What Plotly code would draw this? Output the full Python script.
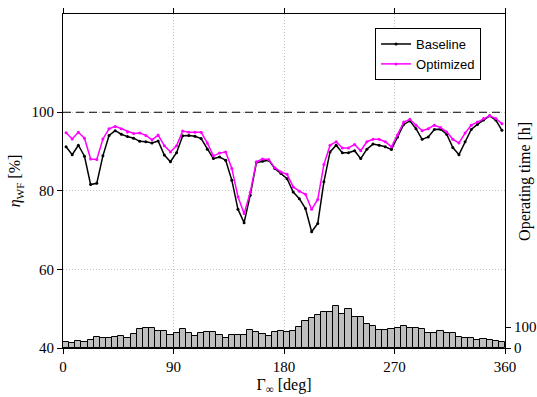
import plotly.graph_objects as go

# Wind direction bin centres [deg]
directions = [2.5 + 5 * i for i in range(72)]

baseline = [91.2, 89.2, 91.6, 88.8, 81.6, 81.9, 88.9, 94.1, 95.3, 94.4, 93.8, 93.4,
            92.6, 92.5, 92.2, 92.7, 89.1, 87.4, 89.7, 94.0, 94.1, 93.9, 93.3, 90.6,
            88.2, 88.6, 87.8, 82.7, 75.3, 71.9, 78.9, 87.2, 87.5, 87.8, 85.7, 84.4,
            83.1, 79.7, 78.0, 75.5, 69.6, 71.7, 82.3, 89.9, 91.6, 89.7, 89.7, 90.2,
            88.2, 90.6, 91.9, 91.6, 91.2, 90.5, 93.7, 96.9, 97.8, 95.8, 93.1, 93.7,
            95.6, 95.7, 94.4, 91.0, 89.2, 92.5, 95.6, 96.9, 98.0, 99.1, 98.0, 95.4]

optimized = [94.8, 93.2, 94.9, 93.4, 88.1, 88.0, 93.2, 95.8, 96.4, 95.8, 95.0, 94.6,
             94.7, 94.1, 93.0, 94.2, 91.5, 89.9, 91.5, 95.2, 94.9, 94.9, 94.9, 92.2,
             88.9, 89.6, 89.9, 85.7, 78.5, 74.2, 79.6, 87.4, 88.1, 88.0, 85.9, 84.8,
             84.2, 81.0, 79.9, 79.1, 75.3, 77.8, 86.7, 91.6, 92.5, 90.9, 90.9, 91.8,
             90.2, 92.5, 93.1, 93.1, 92.5, 91.2, 94.2, 97.5, 98.2, 96.7, 95.3, 95.8,
             96.7, 96.1, 95.0, 93.1, 92.2, 94.7, 96.7, 97.5, 98.4, 99.1, 98.4, 97.1]

operating_hours = [27, 24, 32, 30, 38, 53, 50, 50, 53, 56, 48, 67,
                   93, 96, 96, 82, 82, 61, 72, 91, 74, 58, 72, 78,
                   77, 64, 50, 64, 64, 64, 85, 77, 67, 58, 75, 80,
                   77, 82, 101, 128, 144, 158, 173, 174, 200, 165, 187, 147,
                   147, 115, 104, 86, 86, 91, 96, 106, 96, 96, 93, 72,
                   72, 80, 72, 70, 53, 50, 46, 38, 42, 37, 34, 29]

x_ticks = [0, 90, 180, 270, 360]
y_ticks = [40, 60, 80, 100]
y2_ticks = [0, 100]

serif = "Liberation Serif"
sans = "Liberation Sans"
grid = dict(showgrid=True, gridcolor="#c4c4c4", griddash="1px,2px", gridwidth=1)

fig = go.Figure()

fig.add_trace(go.Scatter(
    x=directions, y=baseline, name="Baseline", mode="lines+markers",
    line=dict(color="black", width=1.5), marker=dict(size=3, color="black"),
))
fig.add_trace(go.Scatter(
    x=directions, y=optimized, name="Optimized", mode="lines+markers",
    line=dict(color="#ff00ff", width=1.5), marker=dict(size=3, color="#ff00ff"),
))
fig.add_trace(go.Bar(
    x=directions, y=operating_hours, width=5, yaxis="y2", showlegend=False,
    marker=dict(color="#bebebe", line=dict(color="black", width=1)),
))

fig.add_shape(type="line", xref="x", yref="y", x0=0, x1=360, y0=100, y1=100,
              line=dict(color="black", width=1.2, dash="8px,5px"))

fig.update_layout(
    width=537, height=397,
    margin=dict(l=63, r=32, t=14, b=49, autoexpand=False),
    paper_bgcolor="white", plot_bgcolor="white",
    font=dict(family=serif, size=15, color="black"),
    bargap=0,
    xaxis=dict(
        range=[0, 360], tickvals=x_ticks, showline=True, linecolor="black", linewidth=1,
        mirror="ticks", ticks="outside", ticklen=5, tickcolor="black",
        zeroline=False, automargin=False, **grid,
        title=dict(text="Γ<sub>∞</sub> [deg]", font=dict(family=serif, size=16), standoff=4),
        tickfont=dict(family=serif, size=15),
    ),
    yaxis=dict(
        range=[40, 125], tickvals=y_ticks, showline=True, linecolor="black", linewidth=1,
        ticks="outside", ticklen=5, tickcolor="black",
        zeroline=False, automargin=False, **grid,
        title=dict(text="<i>η</i><sub>WF</sub> [%]", font=dict(family=serif, size=16), standoff=6),
        tickfont=dict(family=serif, size=15),
    ),
    yaxis2=dict(
        range=[0, 1600], tickvals=y2_ticks, overlaying="y", side="right",
        showline=True, linecolor="black", linewidth=1,
        ticks="outside", ticklen=5, tickcolor="black",
        showgrid=False, zeroline=False, automargin=False,
        tickfont=dict(family=serif, size=15),
    ),
    legend=dict(
        x=0.706, y=0.958, xanchor="left", yanchor="top",
        bgcolor="white", bordercolor="black", borderwidth=1,
        font=dict(family=sans, size=13), tracegroupgap=0,
    ),
    annotations=[dict(
        text="Operating time [h]", xref="paper", yref="paper", x=1.045, y=0.5,
        xanchor="center", yanchor="middle", textangle=-90, showarrow=False,
        font=dict(family=serif, size=16),
    )],
)

fig.write_html("out.html")
